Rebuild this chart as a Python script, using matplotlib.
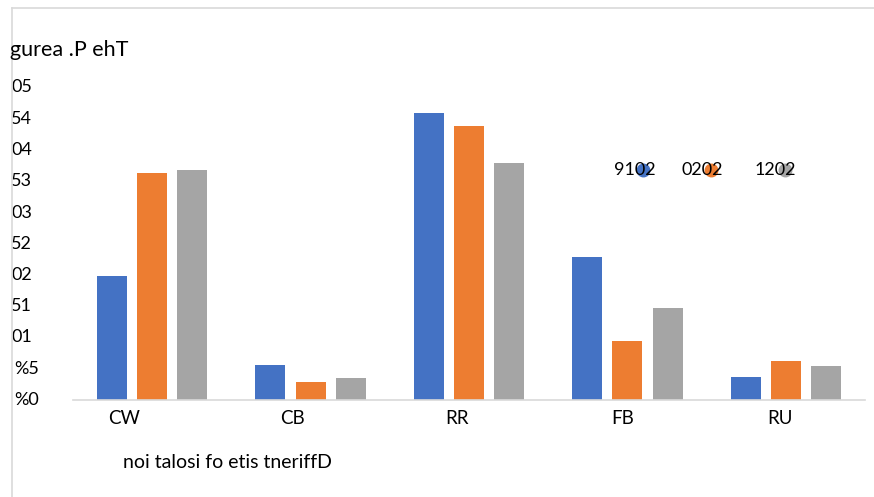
import numpy as np
import matplotlib.pyplot as plt
from matplotlib.lines import Line2D
from matplotlib.transforms import blended_transform_factory

plt.rcParams['font.family'] = ['Lato', 'DejaVu Sans']

# values in percent, one list per year
sites = ["CW", "CB", "RR", "FB", "RU"]
years = ["9102", "0202", "1202"]
share_2019 = [19.9, 5.6, 45.9, 22.9, 3.7]
share_2020 = [36.4, 2.9, 43.9, 9.4, 6.2]
share_2021 = [36.8, 3.6, 37.9, 14.7, 5.4]
ytick_vals = [50, 45, 40, 35, 30, 25, 20, 15, 10, 5, 0]
ytick_text = ["05", "54", "04", "53", "03", "52", "02", "51", "01", "%5", "%0"]

colors = ["#4472c4", "#ed7d31", "#a5a5a5"]
W, H = 874, 497

fig = plt.figure(figsize=(W / 100, H / 100), dpi=100)
ax = fig.add_axes([73 / W, 1 - 400 / H, 792 / W, 312.5 / H])

x = np.arange(len(sites))
width = 0.19
offsets = [-0.254, 0, 0.254]
for series, off, c in zip([share_2019, share_2020, share_2021], offsets, colors):
    ax.bar(x + off, series, width, color=c, zorder=2)

ax.set_xlim(-0.5, len(sites) - 0.5)
ax.set_ylim(0, 50)
for s in ["top", "right", "left"]:
    ax.spines[s].set_visible(False)
ax.spines["bottom"].set_color("#d9d9d9")
ax.spines["bottom"].set_linewidth(1.2)
ax.set_xticks([])
ax.set_yticks([])

# y labels sit at the left border of the figure
ytr = blended_transform_factory(fig.transFigure, ax.transData)
for v, t in zip(ytick_vals, ytick_text):
    left = 14 if t.startswith("%") else 11
    ax.text(left / W, v, t, transform=ytr, ha="left", va="center",
            fontsize=13, color="#000000")

# category labels under each group
label_shift = [-0.18, -0.115, -0.075, -0.03, -0.04]
xtr = blended_transform_factory(ax.transData, fig.transFigure)
for i, (name, sh) in enumerate(zip(sites, label_shift)):
    ax.text(i + sh, 1 - 418 / H, name, transform=xtr, ha="center",
            va="center", fontsize=13.5)

fig.text(10 / W, 1 - 50 / H, "gurea .P ehT", ha="left", va="center", fontsize=15.5)
fig.text(123 / W, 1 - 462 / H, "noi talosi fo etis tneriffD", ha="left",
         va="center", fontsize=14)

# legend: dot drawn under the year text
leg_dot_x = [643, 711, 785]
leg_text_x = [614, 682, 755]
for name, c, dx, tx in zip(years, colors, leg_dot_x, leg_text_x):
    fig.add_artist(Line2D([dx / W], [1 - 170 / H], marker="o", markersize=9,
                          color=c, linestyle="none", transform=fig.transFigure,
                          zorder=3))
    fig.text(tx / W, 1 - 170 / H, name, ha="left", va="center", fontsize=13,
             zorder=4)

# outer chart border (left and top)
fig.add_artist(Line2D([12 / W, 12 / W], [0, 1 - 8 / H], color="#d9d9d9",
                      lw=1.2, transform=fig.transFigure))
fig.add_artist(Line2D([12 / W, 1], [1 - 8 / H, 1 - 8 / H], color="#d9d9d9",
                      lw=1.2, transform=fig.transFigure))

fig.savefig("out.png", dpi=100)
